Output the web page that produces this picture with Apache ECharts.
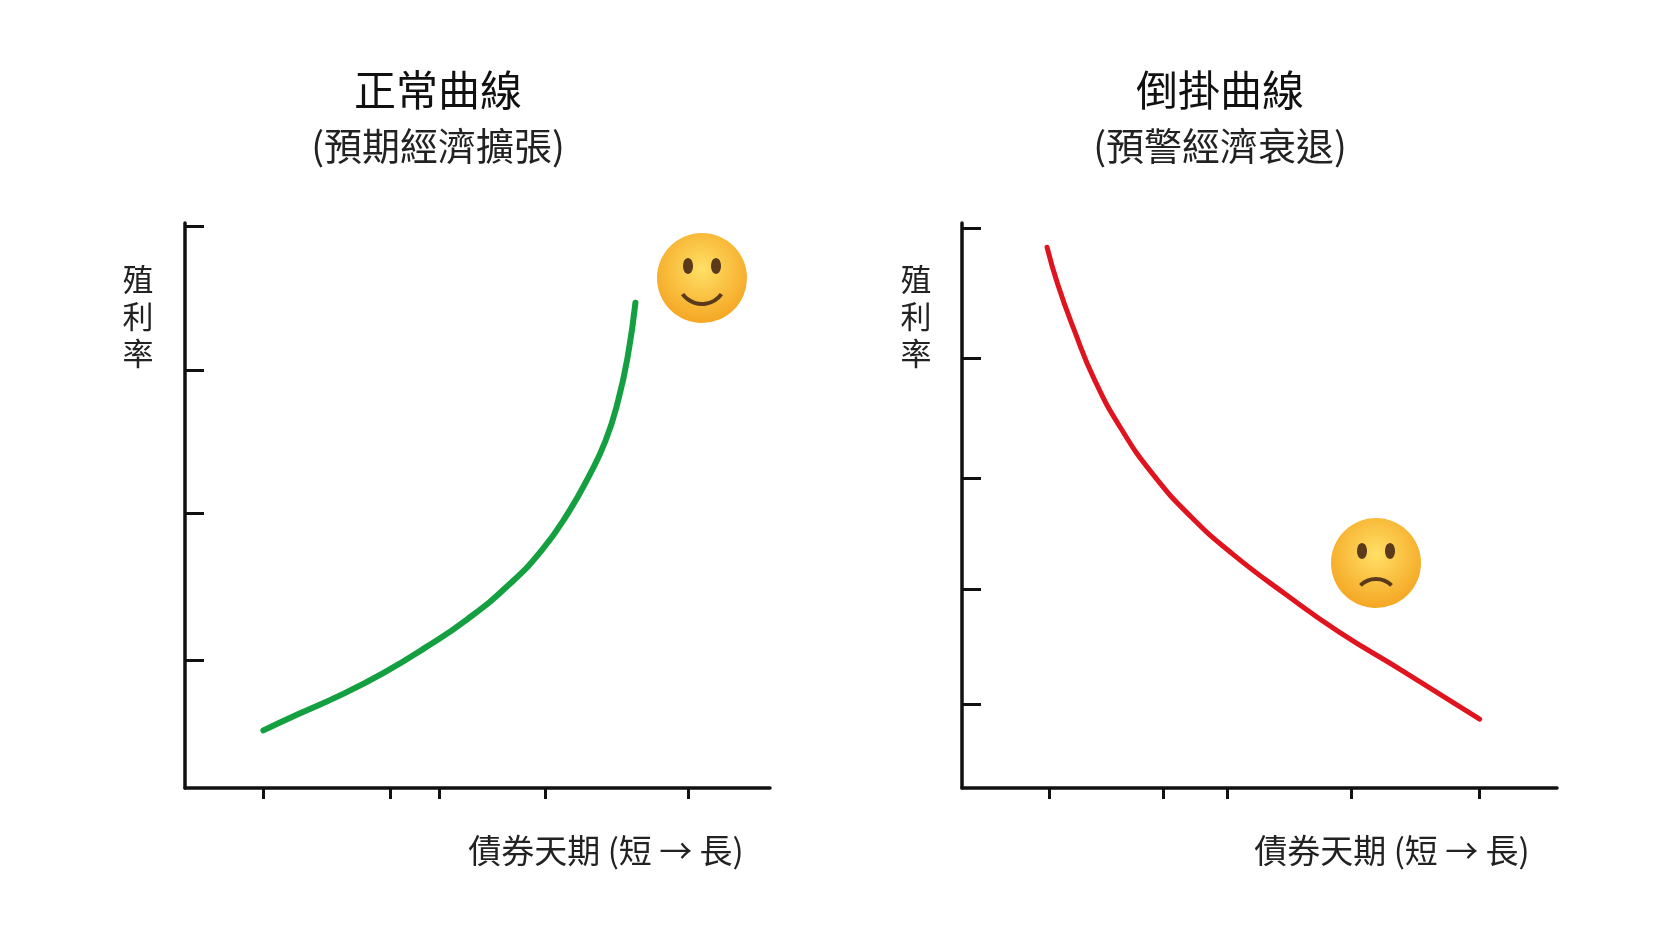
<!DOCTYPE html>
<html><head><meta charset="utf-8">
<script src="https://cdn.jsdelivr.net/npm/echarts@6/dist/echarts.min.js"></script>
<style>html,body{margin:0;background:#fff}#c{width:1666px;height:937px}</style></head>
<body><div id="c"></div>
<script>
const normalCurve = [[1.34,1.02],[1.92,1.30],[2.65,1.64],[3.38,2.03],[4.10,2.48],[4.83,2.99],[5.55,3.61],[6.10,4.21],[6.55,4.87],[6.91,5.53],[7.19,6.15],[7.40,6.84],[7.57,7.65],[7.70,8.59]];
const invertedCurve = [[1.43,9.57],[1.61,8.91],[1.88,8.12],[2.23,7.22],[2.68,6.35],[3.21,5.55],[3.84,4.81],[4.55,4.14],[5.45,3.42],[6.34,2.76],[7.41,2.07],[8.70,1.22]];
const leftXTicks = [1.34,3.5,4.34,6.15,8.6];
const leftYTicks = [2.26,4.87,7.4,9.94];
const rightXTicks = [1.46,3.375,4.46,6.55,8.70];
const rightYTicks = [1.48,3.52,5.49,7.61,9.9];
const titles = ['正常曲線','倒掛曲線'];
const subtitles = ['(預期經濟擴張)','(預警經濟衰退)'];
const yName = '殖\n利\n率';
const xName = '債券天期 (短 → 長)';
const font = '"Noto Sans CJK TC", sans-serif';
const grids=[{left:185,top:223,width:585,height:565},{left:962,top:223,width:595,height:565}];
function xa(i,ticks){return {gridIndex:i,type:'value',min:0,max:10,
 axisLine:{lineStyle:{color:'#111',width:3.5}},splitLine:{show:false},axisLabel:{show:false},
 axisTick:{customValues:ticks,length:11,lineStyle:{color:'#111',width:3}}};}
function ya(i,ticks){return {gridIndex:i,type:'value',min:0,max:10,
 axisLine:{lineStyle:{color:'#111',width:3.5}},splitLine:{show:false},axisLabel:{show:false},
 axisTick:{customValues:ticks,inside:true,length:19,lineStyle:{color:'#111',width:3}}};}
const txt=[];
const cx=[438,1220], ylx=[138,916], xlx=[606,1392];
for(let i=0;i<2;i++){
 txt.push({type:'text',x:cx[i],y:90,style:{text:titles[i],font:'400 42px '+font,fill:'#111',align:'center',verticalAlign:'middle'}});
 txt.push({type:'text',x:cx[i],y:146,style:{text:subtitles[i],font:'38px '+font,fill:'#222',align:'center',verticalAlign:'middle'}});
 txt.push({type:'text',x:ylx[i],y:316,style:{text:yName,font:'31px '+font,fill:'#222',align:'center',verticalAlign:'middle',lineHeight:37}});
 txt.push({type:'text',x:xlx[i],y:850,style:{text:xName,font:'33px '+font,fill:'#222',align:'center',verticalAlign:'middle'}});
}
function face(x,y,happy){
 const g=[];
 g.push({type:'circle',shape:{cx:x,cy:y,r:45},style:{fill:{type:'radial',x:0.5,y:0.4,r:0.6,colorStops:[{offset:0,color:'#ffe066'},{offset:1,color:'#f5a623'}]}}});
 g.push({type:'ellipse',shape:{cx:x-14,cy:y-12,rx:5,ry:8},style:{fill:'#5a3a1a'}});
 g.push({type:'ellipse',shape:{cx:x+14,cy:y-12,rx:5,ry:8},style:{fill:'#5a3a1a'}});
 if(happy) g.push({type:'arc',shape:{cx:x,cy:y+2,r:24,startAngle:0.2*Math.PI,endAngle:0.8*Math.PI},style:{stroke:'#5a3a1a',lineWidth:4,fill:null}});
 else g.push({type:'arc',shape:{cx:x,cy:y+38,r:22,startAngle:1.25*Math.PI,endAngle:1.75*Math.PI},style:{stroke:'#5a3a1a',lineWidth:4,fill:null}});
 return g;
}
const chart=echarts.init(document.getElementById('c'));
chart.setOption({backgroundColor:'#fff',animation:false,grid:grids,
 xAxis:[xa(0,leftXTicks),xa(1,rightXTicks)],yAxis:[ya(0,leftYTicks),ya(1,rightYTicks)],
 series:[
  {type:'line',xAxisIndex:0,yAxisIndex:0,data:normalCurve,smooth:0.5,showSymbol:false,lineStyle:{color:'#14a040',width:6,cap:'round'}},
  {type:'line',xAxisIndex:1,yAxisIndex:1,data:invertedCurve,smooth:0.5,showSymbol:false,lineStyle:{color:'#e0141e',width:5,cap:'round'}}
 ],
 graphic:txt.concat(face(702,278,true),face(1376,563,false))});
</script></body></html>
